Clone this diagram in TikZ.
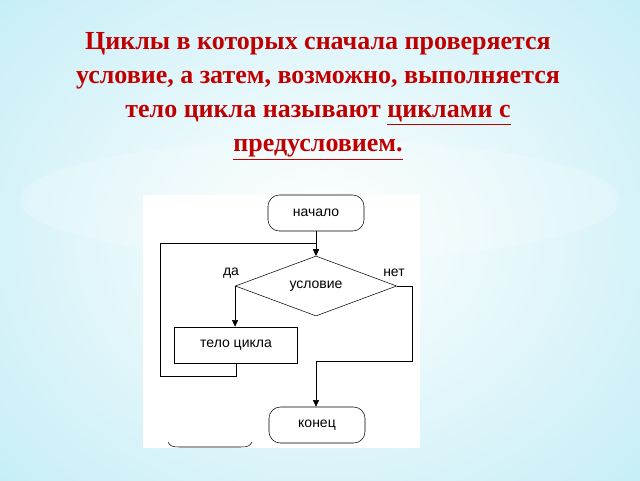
\documentclass[tikz,border=0pt]{standalone}
\usepackage{fontspec}
\setmainfont{Liberation Serif}
\newfontfamily\chartfont{Liberation Sans}
\usetikzlibrary{arrows.meta,shapes.geometric}
\definecolor{titlered}{HTML}{C00000}
\definecolor{skyblue}{HTML}{C6EEF6}
\tikzset{
    term/.style = {draw, rounded corners=8.5pt, minimum width=72pt, minimum height=27pt, font=\chartfont\fontsize{10.5}{12}\selectfont},
    blockbox/.style = {draw, minimum width=92pt, minimum height=27pt, font=\chartfont\fontsize{10.5}{12}\selectfont},
    cond/.style = {draw, diamond, aspect=2.7, minimum width=121pt, minimum height=45pt, inner sep=0pt, font=\chartfont\fontsize{10.5}{12}\selectfont},
    flow/.style = {draw, -{Triangle[length=5pt,width=4.5pt]}},
    tag/.style = {font=\chartfont\fontsize{10.5}{12}\selectfont}
}
\begin{document}
\begin{tikzpicture}[x=0.75pt,y=-0.75pt]
    \useasboundingbox (0,0) rectangle (640,480);
    % background
    \shade[inner color=white, outer color=skyblue] (-120,-120) rectangle (760,600);
    \fill[white, opacity=0.2] (320,200) ellipse (300 and 60);
    % title
    \node[text=titlered, font=\bfseries\fontsize{19.5}{25.5}\selectfont, align=center] (title) at (318,96)
        {Циклы в которых сначала проверяется\\
         условие, а затем, возможно, выполняется\\
         тело цикла называют \underline{циклами с}\\
         \underline{предусловием.}};
    % picture
    \fill[white] (143,195) rectangle (420,448);
    \node[term] (start) at (316,213) {начало};
    \node[cond] (check) at (316,286) {условие};
    \node[blockbox] (body) at (236,345) {тело цикла};
    \node[term] (finish) at (317,425) {конец};
    \coordinate (join) at (316,243);
    \draw[flow] (start) -- (check);
    \draw[flow] (check.west) -- (body.north -| check.west);
    \draw[flow] (body.south) -- ++(0,13) -| (160,243) -- (join) -- (check.north);
    \draw[flow] (check.east) -- (412,286) -- (412,361) -- (316,361) -- (finish.north -| 316,0);
    \node[tag] (yes) at (231,273) {да};
    \node[tag] (no) at (394,273) {нет};
    \draw (168,442) .. controls (170,446) and (172,447) .. (180,447) -- (240,447) .. controls (248,447) and (250,446) .. (252,442);
\end{tikzpicture}
\end{document}
